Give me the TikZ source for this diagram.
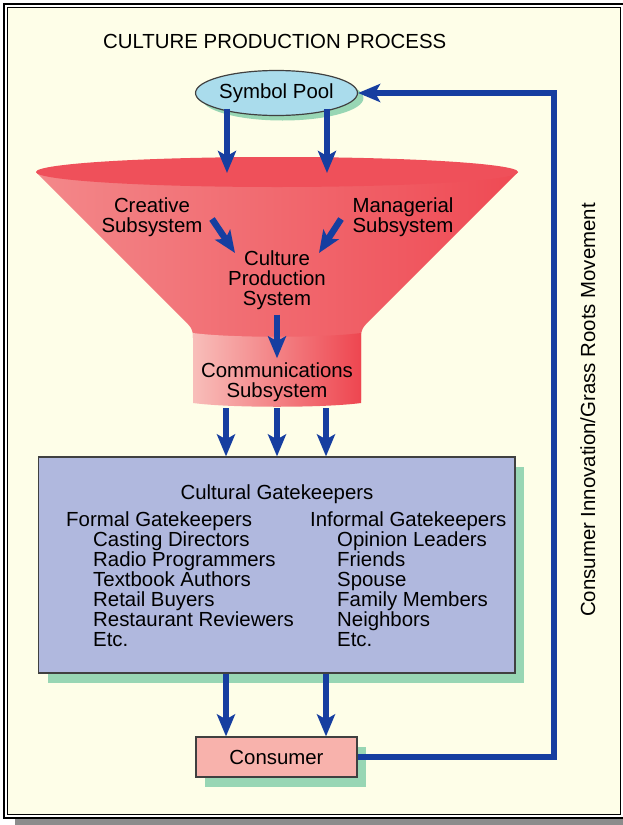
\documentclass[tikz,border=0pt]{standalone}
\usepackage{fontspec}
\setmainfont{Liberation Sans}
\usetikzlibrary{arrows.meta,shadows,shapes.geometric,calc}
\definecolor{cream}{RGB}{254,254,232}
\definecolor{arrblue}{RGB}{22,62,160}
\definecolor{gkfill}{RGB}{176,184,222}
\definecolor{shgreen}{RGB}{152,214,180}
\definecolor{consfill}{RGB}{248,178,172}
\definecolor{poolfill}{RGB}{170,220,236}
\definecolor{rimred}{RGB}{239,80,90}
\definecolor{rimpink}{RGB}{250,202,196}
\definecolor{coneL}{RGB}{243,136,138}
\definecolor{coneM}{RGB}{247,160,158}
\definecolor{coneR}{RGB}{239,74,84}
\definecolor{neckL}{RGB}{248,190,186}
\definecolor{neckR}{RGB}{238,70,80}
\begin{document}
\begin{tikzpicture}[x=1pt,y=-1pt,
  txt/.style={font=\fontsize{20.4}{20}\selectfont, inner sep=0pt, align=center},
  arr/.style={draw=arrblue, line width=6.5pt, -{Stealth[length=22pt,width=18pt,inset=5pt]}},
  gshadow/.style={drop shadow={fill=shgreen, opacity=1, shadow xshift=9pt, shadow yshift=-10pt}},
  boxline/.style={draw=black!75, line width=1.2pt}]
\useasboundingbox (0,0) rectangle (623,825);
% frame
\fill[white] (0,0) rectangle (623,825);
\fill[black!45] (15,819) rectangle (623,825);
\draw[line width=1.3pt] (4,4) rectangle (626,818);
\draw[line width=1.3pt, fill=cream] (7.5,7.5) rectangle (620.5,814.5);
% title
\node[txt, anchor=base west] (title) at (103,48) {CULTURE PRODUCTION PROCESS};
% funnel
\shade[left color=coneL, middle color=coneM, right color=coneR]
  (36,172) -- (184,320) .. controls (192,328) and (193,330) .. (193,338) -- (193,400)
  -- (361,400) -- (361,338) .. controls (361,330) and (362,328) .. (370,320) -- (518,172) -- cycle;
\shade[left color=neckL, right color=neckR]
  (193,333) .. controls (230,338) and (324,338) .. (361,333) -- (361,403)
  .. controls (324,408) and (230,408) .. (193,403) -- cycle;
\shade[left color=rimred, middle color=rimpink, right color=rimred] (277,172) ellipse [x radius=241, y radius=15];
% symbol pool
\node[txt, ellipse, boxline, fill=poolfill, minimum width=147pt, minimum height=45pt,
  drop shadow={fill=shgreen, opacity=1, shadow xshift=6pt, shadow yshift=-5pt}] (pool) at (276.5,93) {Symbol Pool};
% funnel texts
\node[txt] (cre) at (152,217) {Creative\\Subsystem};
\node[txt] (man) at (403,217) {Managerial\\Subsystem};
\node[txt] (cps) at (277,280) {Culture\\Production\\System};
\node[txt] (comm) at (277,382) {Communications\\Subsystem};
% gatekeepers box
\node[boxline, fill=gkfill, minimum width=476.5pt, minimum height=216pt, inner sep=0pt, gshadow] (gk) at (276.75,565) {};
\node[txt, anchor=base] (cg) at (277,499) {Cultural Gatekeepers};
\node[txt, anchor=base west] (fg) at (66,526) {Formal Gatekeepers};
\foreach \t [count=\i] in {Casting Directors,Radio Programmers,Textbook Authors,Retail Buyers,Restaurant Reviewers,Etc.}
  \node[txt, anchor=base west] (fg\i) at (93,{526+20*\i}) {\t};
\node[txt, anchor=base west] (ig) at (310,526) {Informal Gatekeepers};
\foreach \t [count=\i] in {Opinion Leaders,Friends,Spouse,Family Members,Neighbors,Etc.}
  \node[txt, anchor=base west] (ig\i) at (337,{526+20*\i}) {\t};
% consumer
\node[txt, boxline, fill=consfill, minimum width=161pt, minimum height=40pt, gshadow] (cons) at (276.5,757) {Consumer};
% vertical label
\node[txt, rotate=90, anchor=base] (vt) at (595,410) {Consumer Innovation/Grass Roots Movement};
% coordinates
\coordinate (t1) at (227,173);
\coordinate (t2) at (327,173);
\coordinate (ca) at (212,219);
\coordinate (cb) at (235,253);
\coordinate (ma) at (341,219);
\coordinate (mb) at (319,253);
\coordinate (n1) at (226,408);
\coordinate (n2) at (277,408);
\coordinate (n3) at (326,408);
\coordinate (fb) at (554,757);
% arrows
\draw[arr, shorten <=15.5pt] (t1 |- pool.center) -- (t1);
\draw[arr, shorten <=15.5pt] (t2 |- pool.center) -- (t2);
\draw[arr] (ca) -- (cb);
\draw[arr] (ma) -- (mb);
\draw[arr, shorten <=5pt, shorten >=4pt] (cps) -- (comm);
\draw[arr] (n1) -- (n1 |- gk.north);
\draw[arr] (n2) -- (n2 |- gk.north);
\draw[arr] (n3) -- (n3 |- gk.north);
\draw[arr] (n1 |- gk.south) -- (n1 |- cons.north);
\draw[arr] (n3 |- gk.south) -- (n3 |- cons.north);
\draw[arr] (cons.east) -- (fb) |- (pool.east);
\end{tikzpicture}
\end{document}
